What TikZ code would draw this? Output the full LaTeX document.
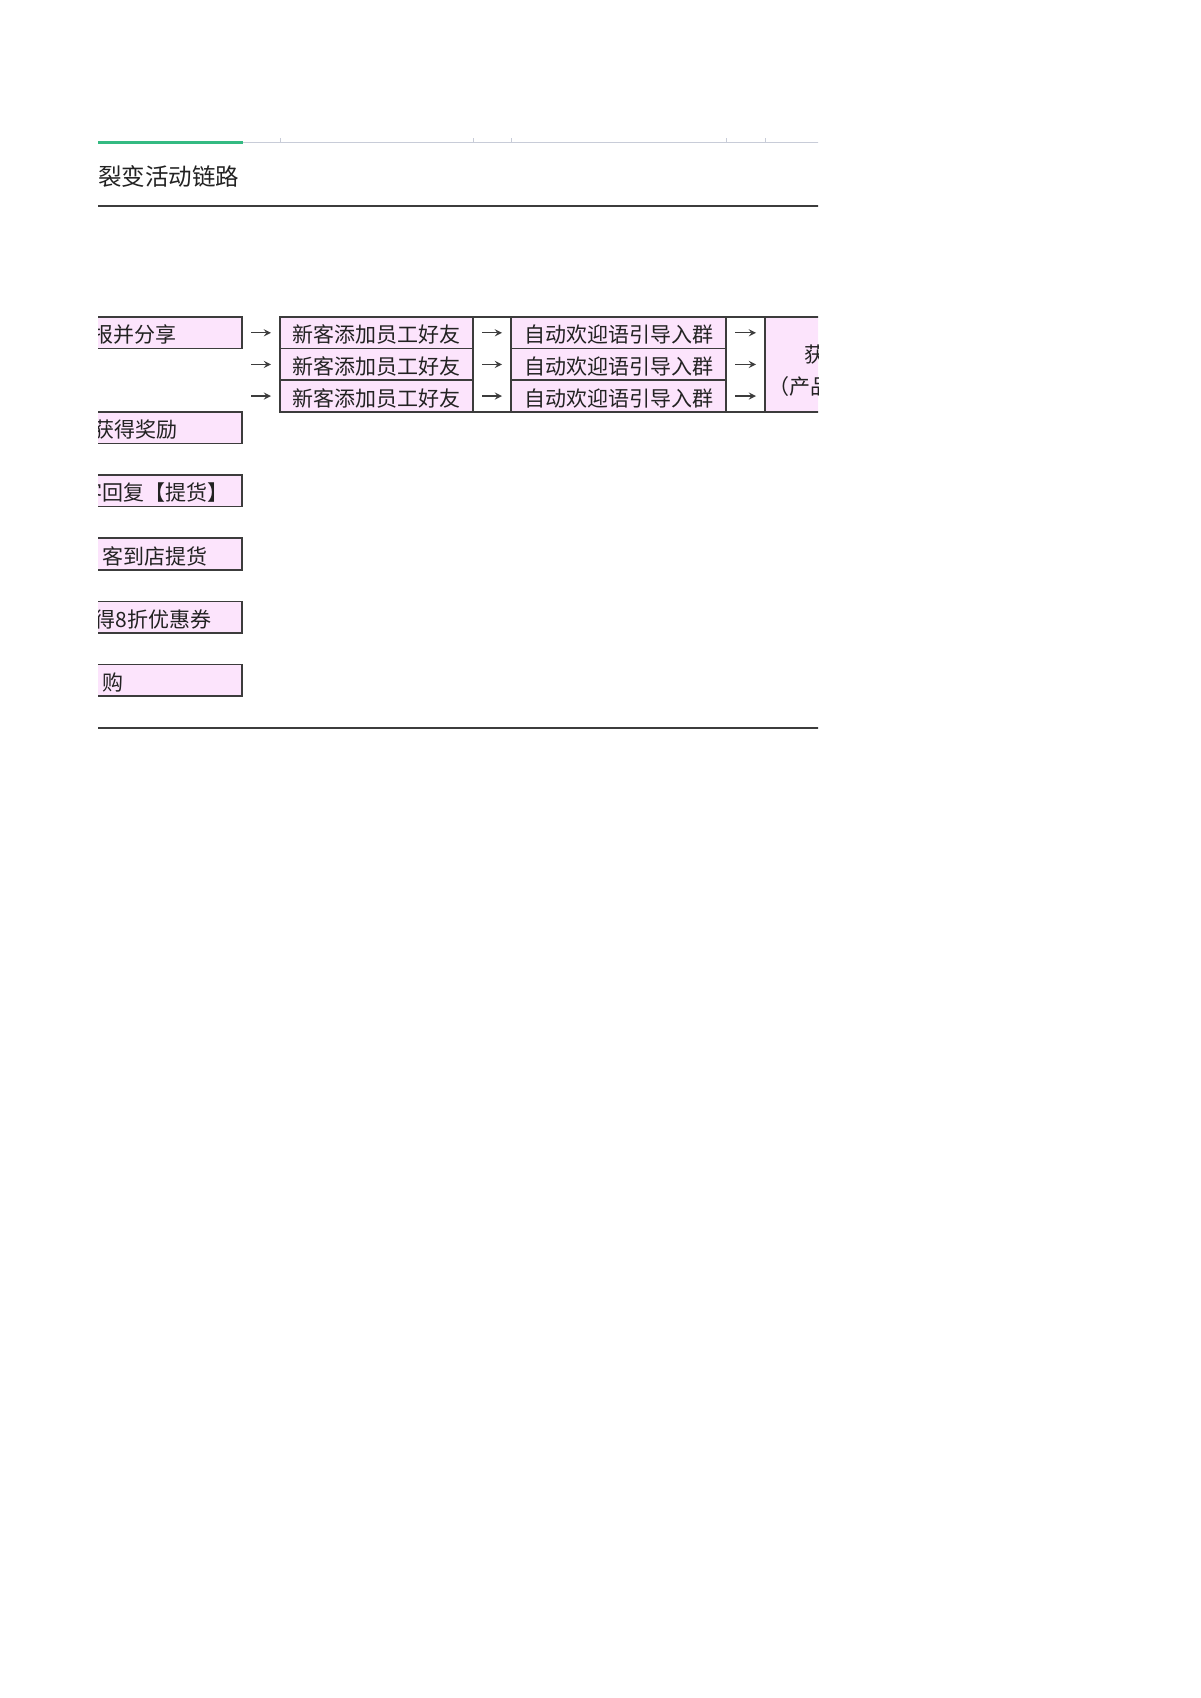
\documentclass[tikz,border=0pt]{standalone}
\usepackage{fontspec}
\setmainfont{Noto Sans CJK SC}
\usepackage{tikz}
\usetikzlibrary{arrows}
\usetikzlibrary{positioning}
\definecolor{cellpink}{RGB}{252,228,252}
\definecolor{cellline}{RGB}{60,60,60}
\definecolor{tabgreen}{RGB}{52,186,130}
\definecolor{tabgrey}{RGB}{200,204,216}
\definecolor{inkgrey}{RGB}{34,34,34}
\tikzstyle{cell} = [rectangle, draw=cellline, fill=cellpink, line width=0.75pt, minimum width=96.5pt, minimum height=15.8pt, inner sep=0pt, outer sep=0pt, text height=10pt, text depth=0pt, text=inkgrey, font=\fontsize{10.5}{12}\selectfont]
\tikzstyle{gapcell} = [rectangle, draw=cellline, fill=white, line width=0.75pt, minimum width=19pt, minimum height=47.4pt, inner sep=0pt, outer sep=0pt]
\tikzstyle{leftbox} = [rectangle, draw=cellline, fill=cellpink, line width=0.75pt, minimum width=90pt, minimum height=15.8pt, inner sep=0pt, outer sep=0pt]
\tikzstyle{celltext} = [inner sep=0pt, text=inkgrey, font=\fontsize{10.5}{12}\selectfont]
\tikzstyle{titletext} = [inner sep=0pt, text=inkgrey, font=\fontsize{11.75}{14}\selectfont]
\tikzstyle{rule} = [line width=1pt, draw=cellline]
\tikzstyle{arrow} = [line width=0.6pt, draw=cellline, ->, >=stealth, shorten <=4.5pt, shorten >=4.5pt]

\begin{document}
\begin{tikzpicture}[x=0.5pt, y=0.5pt]
\useasboundingbox (0,0) rectangle (1200,-1698);

\begin{scope}
\clip (98,0) rectangle (818,-1698);

% tab strip and title
\draw [line width=0.5pt, draw=tabgrey] (98,-142) -- (823,-142);
\draw [line width=1.5pt, draw=tabgreen] (98,-142) -- (243,-142);
\node [titletext, anchor=west] (title) at (98,-176) {裂变活动链路};
\draw [rule] (98,-206) -- (823,-206);

% middle table
\node [cell, anchor=north west] (m1) at (280,-317) {新客添加员工好友};
\node [cell, below=0pt of m1] (m2) {新客添加员工好友};
\node [cell, below=0pt of m2] (m3) {新客添加员工好友};
\node [gapcell, anchor=north west] (g1) at (m1.north east) {};
\node [cell, anchor=north west, minimum width=107.5pt] (w1) at (g1.north east) {自动欢迎语引导入群};
\node [cell, below=0pt of w1, minimum width=107.5pt] (w2) {自动欢迎语引导入群};
\node [cell, below=0pt of w2, minimum width=107.5pt] (w3) {自动欢迎语引导入群};
\node [gapcell, anchor=north west, minimum width=19.5pt] (g2) at (w1.north east) {};
\node [cell, anchor=north west, minimum width=75pt, minimum height=47.4pt] (last) at (g2.north east) {};
\node [celltext, anchor=west] (lt1) at ([xshift=19.5pt,yshift=5pt]last.west) {获};
\node [celltext, anchor=west] (lt2) at ([xshift=1.5pt,yshift=-11pt]last.west) {（产品};

% ticks over the column borders
\draw [line width=0.5pt, draw=tabgrey] (m1.west |- 0,-138) -- ++(0,-4);
\draw [line width=0.5pt, draw=tabgrey] (g1.west |- 0,-138) -- ++(0,-4);
\draw [line width=0.5pt, draw=tabgrey] (w1.west |- 0,-138) -- ++(0,-4);
\draw [line width=0.5pt, draw=tabgrey] (g2.west |- 0,-138) -- ++(0,-4);
\draw [line width=0.5pt, draw=tabgrey] (last.west |- 0,-138) -- ++(0,-4);

% left column
\node [leftbox, left=19pt of m1] (lb1) {};
\node [leftbox, below=31.6pt of lb1] (lb2) {};
\node [leftbox, below=15.8pt of lb2] (lb3) {};
\node [leftbox, below=15.8pt of lb3] (lb4) {};
\node [leftbox, below=15.8pt of lb4] (lb5) {};
\node [leftbox, below=15.8pt of lb5] (lb6) {};
\node [celltext, anchor=east] (t1) at ([xshift=-32.5pt,yshift=-1pt]lb1.east) {报并分享};
\node [celltext, anchor=east] (t2) at ([xshift=-32pt,yshift=-1pt]lb2.east) {获得奖励};
\node [celltext, anchor=east] (t3) at ([xshift=-6.5pt,yshift=-1pt]lb3.east) {客回复【提货】};
\node [celltext, anchor=east] (t4) at ([xshift=-17pt,yshift=-1pt]lb4.east) {客到店提货};
\node [celltext, anchor=east] (t5) at ([xshift=-15pt,yshift=-1pt]lb5.east) {得8折优惠券};
\node [celltext, anchor=east] (t6) at ([xshift=-59pt,yshift=-1pt]lb6.east) {购};

\draw [rule] (98,-728) -- (823,-728);

% arrows
\coordinate (c2) at (lb1.east |- m2.west);
\coordinate (c3) at (lb1.east |- m3.west);
\draw [arrow] (lb1.east) -- (m1.west);
\draw [arrow] (c2) -- (m2.west);
\draw [arrow] (c3) -- (m3.west);
\draw [arrow] (m1.east) -- (w1.west);
\draw [arrow] (m2.east) -- (w2.west);
\draw [arrow] (m3.east) -- (w3.west);
\draw [arrow] (w1.east) -- (last.west |- w1.east);
\draw [arrow] (w2.east) -- (last.west |- w2.east);
\draw [arrow] (w3.east) -- (last.west |- w3.east);
\end{scope}

\end{tikzpicture}
\end{document}
